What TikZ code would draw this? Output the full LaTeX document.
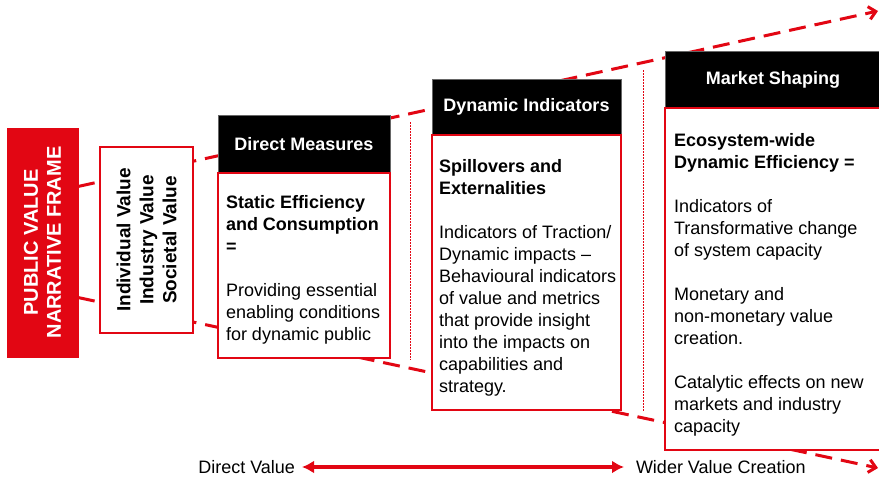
\documentclass[tikz,border=0pt]{standalone}
\usepackage{fontspec}
\setmainfont{Liberation Sans}
\usetikzlibrary{positioning,arrows.meta}
\definecolor{pvred}{RGB}{226,6,19}
\begin{document}
\begin{tikzpicture}[x=1pt,y=-1pt,
  every node/.style={inner sep=0pt,outer sep=0pt},
  pvframe/.style={fill=pvred,draw=pvred,text=white,align=center,rotate=90,
    font=\fontsize{20}{23}\selectfont\bfseries},
  valbox/.style={fill=white,draw=pvred,line width=1.5pt,align=center,rotate=90,
    font=\fontsize{19}{23}\selectfont\bfseries},
  hdr/.style={fill=black,draw=black!60,text=white,anchor=north west,
    font=\fontsize{18}{22}\selectfont\bfseries},
  body/.style={fill=white,draw=pvred,line width=1.5pt},
  btext/.style={align=left,anchor=north west,font=\fontsize{18}{22}\selectfont},
  trend/.style={draw=pvred,line width=3pt,dash pattern=on 17pt off 9pt,
    -{Straight Barb[length=7pt,width=13pt]}},
  divider/.style={draw=pvred,line width=1pt,dash pattern=on 1.5pt off 1.5pt},
  valuespan/.style={draw=pvred,line width=3.2pt,
    {Latex[length=12pt,width=13pt]}-{Latex[length=12pt,width=13pt]}},
  lbl/.style={font=\fontsize{18}{22}\selectfont}]
  \clip (0,0) rectangle (879,479);
  \node[pvframe,minimum width=229pt,minimum height=71pt] (frame) at (42.5,242.5)
    {PUBLIC VALUE\\NARRATIVE FRAME};
  \coordinate (topEnd) at (878,11);
  \coordinate (botEnd) at (878,468);
  \draw[trend] ([yshift=56pt]frame.south) -- (topEnd);
  \draw[trend] ([yshift=-55pt]frame.south) -- (botEnd);
  \node[valbox,minimum width=186pt,minimum height=93pt] (values) at (146.5,240)
    {Individual Value\\Industry Value\\Societal Value};

  \node[hdr,minimum width=172pt,minimum height=58pt] (dmHead) at (218,115) {Direct Measures};
  \node[body,minimum width=172pt,minimum height=185pt,below=0pt of dmHead] (dmBody) {};
  \node[btext,below right=22pt and 8pt of dmBody.north west] (dmText)
    {\textbf{Static Efficiency}\\\textbf{and Consumption}\\\textbf{=}\\[22pt]
     Providing essential\\enabling conditions\\for dynamic public};

  \node[hdr,minimum width=189pt,minimum height=56pt] (diHead) at (432,79) {Dynamic Indicators};
  \node[body,minimum width=189pt,minimum height=275pt,below=0pt of diHead] (diBody) {};
  \node[btext,below right=24pt and 7pt of diBody.north west] (diText)
    {\textbf{Spillovers and}\\\textbf{Externalities}\\[22pt]
     Indicators of Traction/\\Dynamic impacts --\\Behavioural indicators\\
     of value and metrics\\that provide insight\\into the impacts on\\
     capabilities and\\strategy.};

  \node[hdr,minimum width=216pt,minimum height=57pt] (msHead) at (665,51) {Market Shaping};
  \node[body,minimum width=216pt,minimum height=342pt,below=0pt of msHead] (msBody) {};
  \node[btext,below right=25pt and 9pt of msBody.north west] (msText)
    {\textbf{Ecosystem-wide}\\\textbf{Dynamic Efficiency =}\\[22pt]
     Indicators of\\Transformative change\\of system capacity\\[22pt]
     Monetary and\\non-monetary value\\creation.\\[22pt]
     Catalytic effects on new\\markets and industry\\capacity};

  \draw[divider] (410,122) -- (410,360);
  \draw[divider] (643,70) -- (643,412);

  \node[lbl,anchor=east] (direct) at (295,467) {Direct Value};
  \node[lbl,anchor=west] (wider) at (636,467) {Wider Value Creation};
  \draw[valuespan,shorten <=7pt,shorten >=12pt] (direct) -- (wider);
\end{tikzpicture}
\end{document}
